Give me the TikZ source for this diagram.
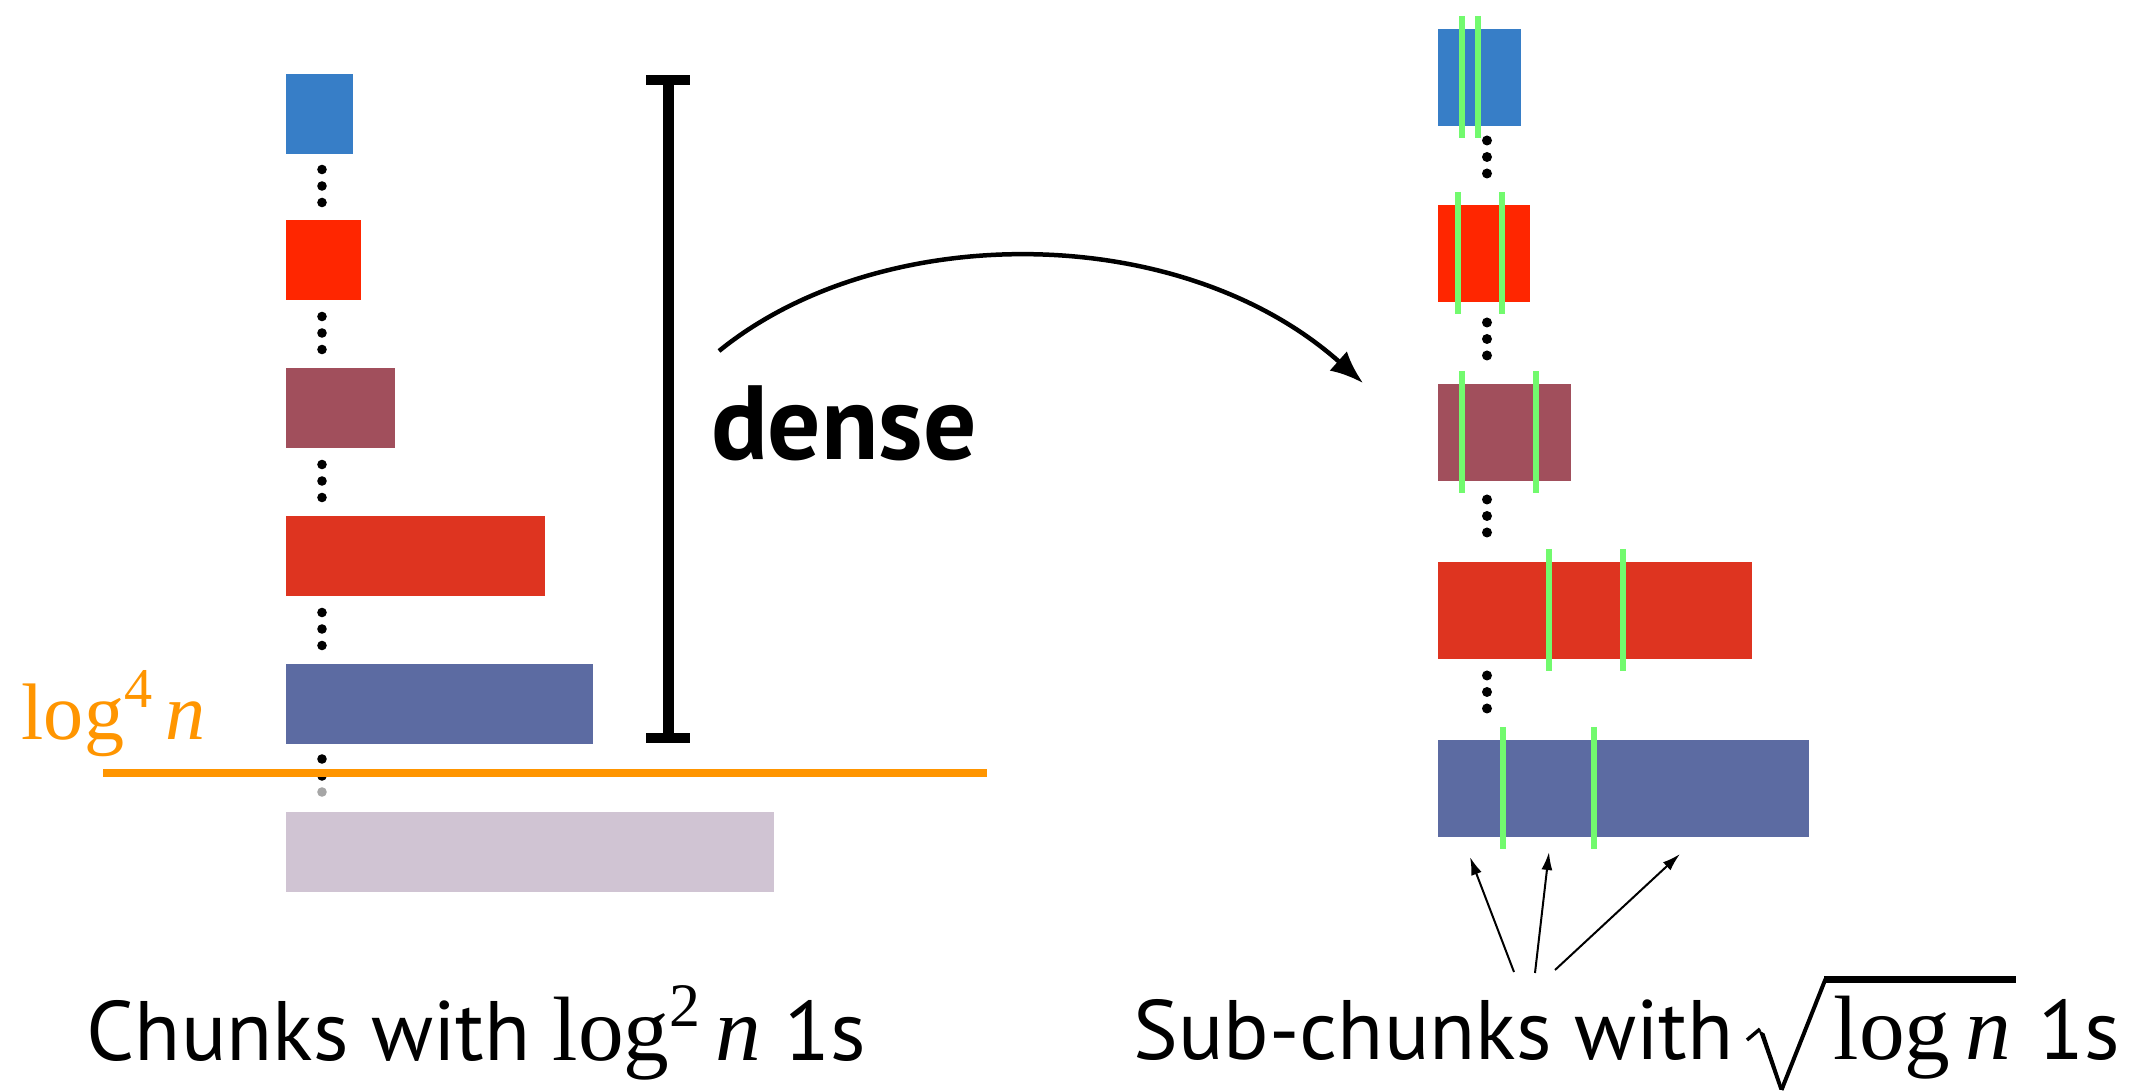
\documentclass[tikz,border=0pt]{standalone}
\usepackage{fontspec}
\setmainfont{PT Sans}
\newfontfamily\timesfont{Liberation Serif}
\usetikzlibrary{arrows.meta}

\definecolor{cblue}{RGB}{55,126,199}
\definecolor{cred}{RGB}{255,38,0}
\definecolor{cmaroon}{RGB}{161,79,92}
\definecolor{corange}{RGB}{222,52,32}
\definecolor{cslate}{RGB}{92,107,162}
\definecolor{clilac}{RGB}{208,196,211}
\definecolor{cline}{RGB}{255,149,0}
\definecolor{cgreen}{RGB}{114,250,110}

\begin{document}
\begin{tikzpicture}[
	chunk/.style={anchor=north west,inner sep=0pt,minimum height=8mm},
	subchunk/.style={anchor=north west,inner sep=0pt,minimum height=9.7mm},
	one/.style={draw=cgreen,line width=0.6mm},
	caption/.style={anchor=base west,inner sep=0pt,font=\fontsize{24}{28}\selectfont},
]
\useasboundingbox (0,0) rectangle (21.35,-10.92);
	% chunks
	\node[chunk,minimum width=6.7mm,fill=cblue] at (2.85,-0.73) (c1) {};
	\node[chunk,minimum width=7.5mm,fill=cred] at (2.85,-2.19) (c2) {};
	\node[chunk,minimum width=10.9mm,fill=cmaroon] at (2.85,-3.67) (c3) {};
	\node[chunk,minimum width=25.9mm,fill=corange] at (2.85,-5.15) (c4) {};
	\node[chunk,minimum width=30.7mm,fill=cslate] at (2.85,-6.63) (c5) {};
	\node[chunk,minimum width=48.8mm,fill=clilac] at (2.85,-8.11) (c6) {};
	\foreach \y in {1.695,1.86,2.025,3.165,3.33,3.495,4.645,4.81,4.975,6.125,6.29,6.455,7.59,7.76}
		\fill (3.22,-\y) circle (0.048);
	\fill[black!35] (3.22,-7.92) circle (0.048);
	% threshold
	\draw[cline,line width=0.8mm] (1.03,-7.73) -- (9.87,-7.73);
	\node[anchor=base west,inner sep=0pt,text=cline,font=\fontsize{22.8}{26}\timesfont] at (0.21,-7.40) (thr)
		{log\raisebox{0.4em}{\fontsize{16}{18}\selectfont 4}\,\itshape n};
	% bracket
	\draw[line width=1.1mm] (6.68,-0.80) -- (6.68,-7.38);
	\draw[line width=1mm] (6.46,-0.80) -- (6.90,-0.80);
	\draw[line width=1mm] (6.46,-7.38) -- (6.90,-7.38);
	\node[anchor=base,font=\fontsize{30}{34}\selectfont\bfseries] at (8.44,-4.60) (dense) {dense};
	% curved arrow
	\coordinate (from) at (7.19,-3.51);
	\coordinate (to) at (13.63,-3.83);
	\draw[line width=0.45mm,-{Latex[length=3.3mm,width=2.6mm]}] (from) .. controls (8.80,-2.20) and (11.80,-2.20) .. (to);
	% sub-chunks
	\node[subchunk,minimum width=8.3mm,fill=cblue] at (14.37,-0.28) (s1) {};
	\node[subchunk,minimum width=9.2mm,fill=cred] at (14.37,-2.04) (s2) {};
	\node[subchunk,minimum width=13.3mm,fill=cmaroon] at (14.37,-3.83) (s3) {};
	\node[subchunk,minimum width=31.4mm,fill=corange] at (14.37,-5.61) (s4) {};
	\node[subchunk,minimum width=37.1mm,fill=cslate] at (14.37,-7.39) (s5) {};
	\foreach \y in {1.405,1.57,1.735,3.225,3.39,3.555,4.995,5.16,5.325,6.755,6.92,7.085}
		\fill (14.87,-\y) circle (0.05);
	% the 1s inside sub-chunks
	\draw[one] ([xshift=2.5mm,yshift=1.2mm]s1.north west) -- ([xshift=2.5mm,yshift=-1.2mm]s1.south west);
	\draw[one] ([xshift=4.1mm,yshift=1.2mm]s1.north west) -- ([xshift=4.1mm,yshift=-1.2mm]s1.south west);
	\draw[one] ([xshift=2.1mm,yshift=1.2mm]s2.north west) -- ([xshift=2.1mm,yshift=-1.2mm]s2.south west);
	\draw[one] ([xshift=6.5mm,yshift=1.2mm]s2.north west) -- ([xshift=6.5mm,yshift=-1.2mm]s2.south west);
	\draw[one] ([xshift=2.5mm,yshift=1.2mm]s3.north west) -- ([xshift=2.5mm,yshift=-1.2mm]s3.south west);
	\draw[one] ([xshift=9.9mm,yshift=1.2mm]s3.north west) -- ([xshift=9.9mm,yshift=-1.2mm]s3.south west);
	\draw[one] ([xshift=11.2mm,yshift=1.2mm]s4.north west) -- ([xshift=11.2mm,yshift=-1.2mm]s4.south west);
	\draw[one] ([xshift=18.6mm,yshift=1.2mm]s4.north west) -- ([xshift=18.6mm,yshift=-1.2mm]s4.south west);
	\draw[one] ([xshift=6.6mm,yshift=1.2mm]s5.north west) -- ([xshift=6.6mm,yshift=-1.2mm]s5.south west);
	\draw[one] ([xshift=15.7mm,yshift=1.2mm]s5.north west) -- ([xshift=15.7mm,yshift=-1.2mm]s5.south west);
	% pointers
	\coordinate (p1) at (15.14,-9.72);
	\coordinate (p2) at (15.35,-9.73);
	\coordinate (p3) at (15.55,-9.70);
	\coordinate (h1) at (14.70,-8.57);
	\coordinate (h2) at (15.49,-8.52);
	\coordinate (h3) at (16.80,-8.54);
	\draw[line width=0.2mm,-{Latex[length=1.8mm,width=1.1mm]}] (p1) -- (h1);
	\draw[line width=0.2mm,-{Latex[length=1.8mm,width=1.1mm]}] (p2) -- (h2);
	\draw[line width=0.2mm,-{Latex[length=1.8mm,width=1.1mm]}] (p3) -- (h3);
	% captions
	\node[caption] at (0.86,-10.61) (cap1)
		{Chunks with {\fontsize{26}{30}\timesfont log\raisebox{0.38em}{\fontsize{17.6}{20}\selectfont 2}\,\itshape n} 1s};
	\node[caption] at (11.33,-10.60) (cap2) {Sub-chunks with};
	\node[caption,font=\fontsize{26}{30}\timesfont] at (18.33,-10.60) (root) {log\,\itshape n};
	\node[caption] at (20.38,-10.60) (ones) {1s};
	% square root sign
	\draw[line width=0.35mm] (17.47,-10.40) -- (17.60,-10.29);
	\fill (17.585,-10.30) -- (17.645,-10.335) -- (17.835,-10.90) -- (17.795,-10.90) -- cycle;
	\draw[line width=0.4mm] (17.815,-10.90) -- (18.255,-9.79);
	\draw[line width=0.7mm] (18.24,-9.795) -- (20.16,-9.795);
\end{tikzpicture}
\end{document}
